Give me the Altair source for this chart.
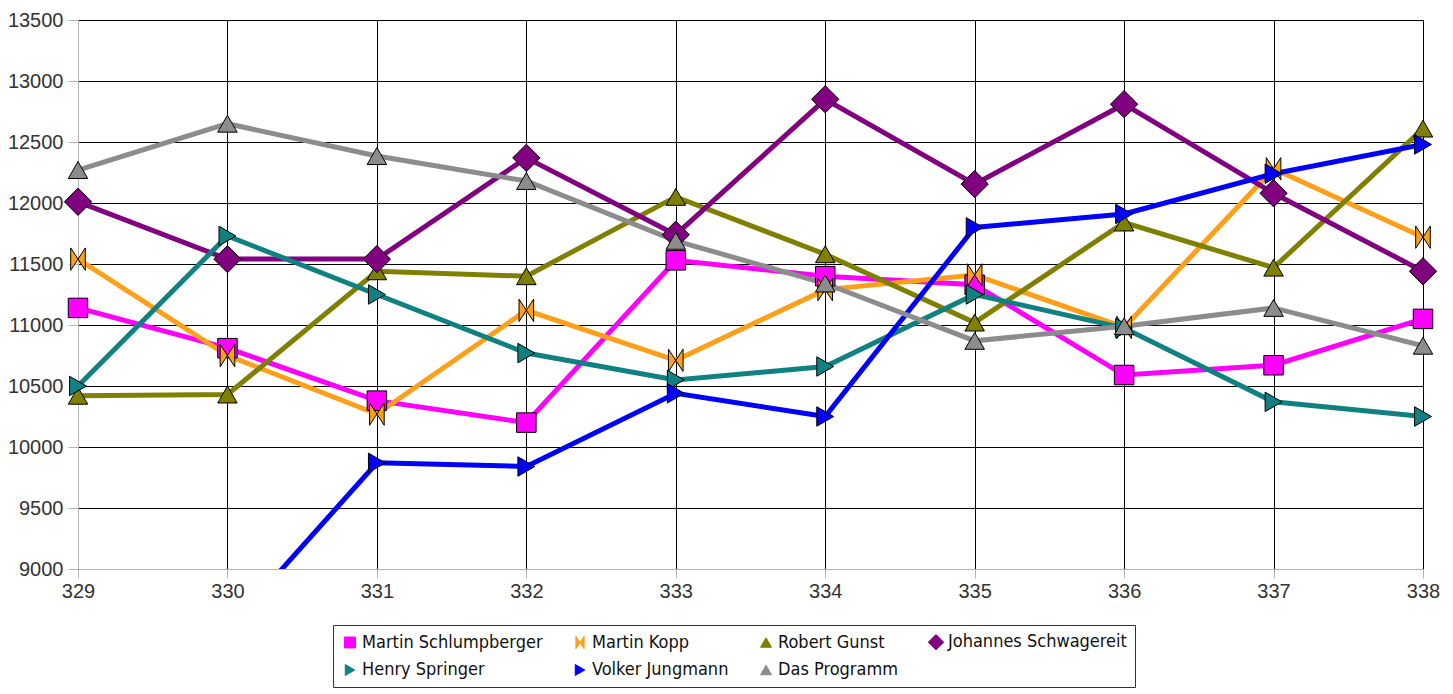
import altair as alt
import pandas as pd

rounds = [329, 330, 331, 332, 333, 334, 335, 336, 337, 338]
series = ["Martin Schlumpberger", "Martin Kopp", "Robert Gunst", "Johannes Schwagereit",
          "Henry Springer", "Volker Jungmann", "Das Programm"]
schlumpberger = [11140, 10810, 10380, 10200, 11530, 11400, 11330, 10590, 10670, 11050]
kopp = [11540, 10750, 10270, 11120, 10710, 11290, 11410, 10980, 12280, 11720]
gunst = [10420, 10430, 11440, 11400, 12050, 11580, 11020, 11840, 11470, 12610]
schwagereit = [12010, 11540, 11540, 12370, 11740, 12850, 12155, 12810, 12080, 11440]
springer = [10500, 11730, 11250, 10770, 10550, 10660, 11250, 10975, 10370, 10250]
jungmann = [8200, 8500, 9870, 9840, 10440, 10250, 11800, 11910, 12240, 12480]
programm = [12270, 12650, 12385, 12180, 11690, 11340, 10870, 10990, 11140, 10830]
y_ticks = [9000, 9500, 10000, 10500, 11000, 11500, 12000, 12500, 13000, 13500]

colors = ["#ff00ff", "#ff9f1a", "#808000", "#800080", "#108080", "#0000ff", "#8c8c8c"]
bowtie = "M-0.75,-1.15L0,0L-0.75,1.15ZM0.75,-1.15L0,0L0.75,1.15Z"
diamond = "M0,-1.4L1.4,0L0,1.4L-1.4,0Z"
shapes = ["square", bowtie, "triangle-up", diamond, "triangle-right", "triangle-right", "triangle-up"]

values = [schlumpberger, kopp, gunst, schwagereit, springer, jungmann, programm]
rows = []
for i, (name, vals) in enumerate(zip(series, values)):
    for r, v in zip(rounds, vals):
        rows.append({"Runde": r, "Punkte": v, "Spieler": name, "order": i})
df = pd.DataFrame(rows)

x_enc = alt.X("Runde:Q", scale=alt.Scale(domain=[329, 338], nice=False, zero=False),
              axis=alt.Axis(values=rounds, format="d", title=None, labelFontSize=20,
                            labelColor="#333", labelFont="Liberation Sans", labelPadding=3,
                            labelFlush=False, grid=True,
                            gridColor={"condition": {"test": "datum.value === 329", "value": "#b5b5b5"}, "value": "#000"},
                            domainColor="#b5b5b5", tickColor="#b5b5b5", tickSize=9))
y_enc = alt.Y("Punkte:Q", scale=alt.Scale(domain=[9000, 13500], nice=False, zero=False),
              axis=alt.Axis(values=y_ticks, format="d", title=None, labelFontSize=20,
                            labelColor="#333", labelFont="Liberation Sans", labelPadding=5,
                            labelFlush=False, grid=True,
                            gridColor={"condition": {"test": "datum.value === 9000", "value": "#b5b5b5"}, "value": "#000"},
                            domainColor="#b5b5b5", tickColor="#b5b5b5", tickSize=10))

color_scale = alt.Scale(domain=series, range=colors)
shape_scale = alt.Scale(domain=series, range=shapes)

leg = alt.Legend(title=None, orient="none", legendX=255, legendY=605, columns=4,
                 direction="horizontal", labelLimit=0,
                 symbolStrokeColor="black", symbolStrokeWidth=1)

lines = alt.Chart(df).mark_line(clip=True, strokeWidth=5).encode(
    x=x_enc, y=y_enc,
    color=alt.Color("Spieler:N", scale=color_scale, legend=leg),
    detail="Spieler:N",
    order="Runde:Q",
)

points = alt.Chart(df).transform_filter("datum.Punkte >= 9000").mark_point(
    filled=True, size=380, stroke="black", strokeWidth=1, opacity=1
).encode(
    x=x_enc, y=y_enc,
    color=alt.Color("Spieler:N", scale=color_scale, legend=leg),
    shape=alt.Shape("Spieler:N", scale=shape_scale, legend=leg),
)

chart = alt.layer(lines, points).properties(
    width=1345, height=549,
    autosize=alt.AutoSizeParams(type="none"),
    padding={"left": 70, "top": 12, "right": 22, "bottom": 125},
).configure_view(stroke=None).configure_axis(gridWidth=1).configure_legend(
    labelFont="DejaVu Sans Condensed, Liberation Sans, sans-serif", labelFontSize=18,
    labelColor="#111", labelLimit=0,
    symbolSize=120, symbolStrokeColor="black", symbolStrokeWidth=1,
    strokeColor="#333", padding=8, rowPadding=9, columnPadding=28, labelOffset=3,
)

chart.save("out.html", embed_options={"renderer": "svg", "actions": False})
